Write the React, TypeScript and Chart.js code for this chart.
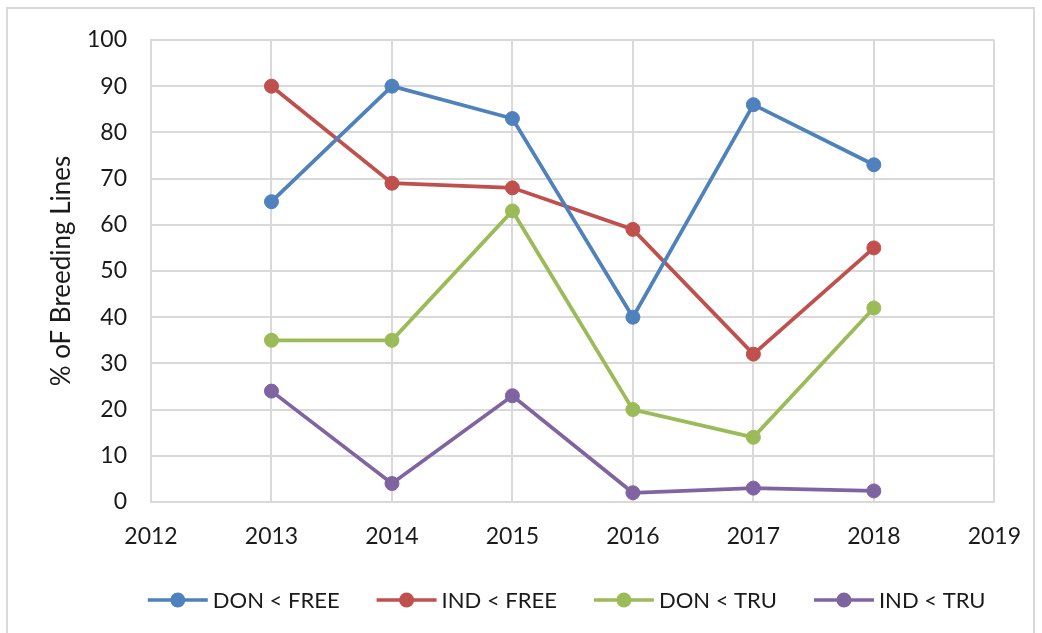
import React, { useEffect, useRef } from "react";
import { Chart, registerables } from "chart.js";

Chart.register(...registerables);

const years = [2013, 2014, 2015, 2016, 2017, 2018];
const donFree = [65, 90, 83, 40, 86, 73];
const indFree = [90, 69, 68, 59, 32, 55];
const donTru = [35, 35, 63, 20, 14, 42];
const indTru = [24, 4, 23, 2, 3, 2.4];
const seriesNames = ["DON < FREE", "IND < FREE", "DON < TRU", "IND < TRU"];
const seriesColors = ["#4F81BD", "#C0504D", "#9BBB59", "#8064A2"];
const xMin = 2012;
const xMax = 2019;
const yMin = 0;
const yMax = 100;
const yTitle = "% oF Breeding Lines";

const FONT = "Lato, 'Noto Sans', sans-serif";
const TEXT = "#1a1a1a";
const GRID = "#d9d9d9";

const legendPlugin = {
  id: "lineLegend",
  afterDraw(chart: any) {
    const ctx = chart.ctx as CanvasRenderingContext2D;
    const area = chart.chartArea;
    ctx.save();
    ctx.font = `22px ${FONT}`;
    const lineW = 60;
    const gapText = 5;
    const gapItem = 37;
    const items = chart.data.datasets.map((ds: any) => ({
      label: ds.label as string,
      color: ds.borderColor as string,
      w: ctx.measureText(ds.label).width,
    }));
    const total =
      items.reduce((s: number, it: any) => s + lineW + gapText + it.w, 0) +
      gapItem * (items.length - 1);
    let x = (area.left + area.right) / 2 - 6 - total / 2;
    const y = 600;
    for (const it of items) {
      ctx.strokeStyle = it.color;
      ctx.lineWidth = 3.5;
      ctx.beginPath();
      ctx.moveTo(x, y);
      ctx.lineTo(x + lineW, y);
      ctx.stroke();
      ctx.fillStyle = it.color;
      ctx.beginPath();
      ctx.arc(x + lineW / 2, y, 7.5, 0, Math.PI * 2);
      ctx.fill();
      ctx.fillStyle = TEXT;
      ctx.textBaseline = "middle";
      ctx.textAlign = "left";
      ctx.fillText(it.label, x + lineW + gapText, y + 1);
      x += lineW + gapText + it.w + gapItem;
    }
    ctx.restore();
  },
};

export default function App() {
  const ref = useRef<HTMLCanvasElement | null>(null);
  useEffect(() => {
    if (!ref.current) return;
    const all = [donFree, indFree, donTru, indTru];
    const chart = new Chart(ref.current, {
      type: "line",
      data: {
        datasets: all.map((vals, i) => ({
          label: seriesNames[i],
          data: years.map((x, j) => ({ x, y: vals[j] })),
          borderColor: seriesColors[i],
          backgroundColor: seriesColors[i],
          pointBackgroundColor: seriesColors[i],
          pointBorderColor: seriesColors[i],
          borderWidth: 3.75,
          pointRadius: 7,
          pointBorderWidth: 1,
          tension: 0,
        })),
      },
      options: {
        responsive: false,
        animation: false,
        layout: { padding: { left: 44, right: 46, top: 40, bottom: 0 } },
        plugins: {
          legend: { display: false },
          tooltip: { enabled: false },
        },
        scales: {
          x: {
            type: "linear",
            min: xMin,
            max: xMax,
            ticks: {
              stepSize: 1,
              padding: 21,
              color: TEXT,
              font: { family: FONT, size: 23 },
              callback: (v: any) => String(v),
            },
            grid: { color: GRID, lineWidth: 2, drawTicks: false },
            border: { color: GRID, width: 2 },
            afterFit: (s: any) => {
              s.height = 131;
            },
          },
          y: {
            min: yMin,
            max: yMax,
            ticks: {
              stepSize: 10,
              padding: 24,
              color: TEXT,
              font: { family: FONT, size: 23 },
            },
            grid: { color: GRID, lineWidth: 2, drawTicks: false },
            border: { color: GRID, width: 2 },
            title: {
              display: true,
              text: yTitle,
              color: TEXT,
              font: { family: FONT, size: 26 },
              padding: { top: 2, bottom: 2 },
            },
            afterFit: (s: any) => {
              s.width = 107;
            },
          },
        },
      },
      plugins: [legendPlugin],
    });
    return () => chart.destroy();
  }, []);

  return (
    <div style={{ position: "absolute", left: 0, top: 0, width: 1042, height: 633, overflow: "hidden", background: "#fff" }}>
      <canvas ref={ref} width={1042} height={633} style={{ position: "absolute", left: 0, top: 0 }} />
      <div
        style={{
          position: "absolute",
          left: 6,
          top: 7,
          width: 1029,
          height: 630,
          border: `2px solid ${GRID}`,
          boxSizing: "border-box",
          pointerEvents: "none",
        }}
      />
    </div>
  );
}
